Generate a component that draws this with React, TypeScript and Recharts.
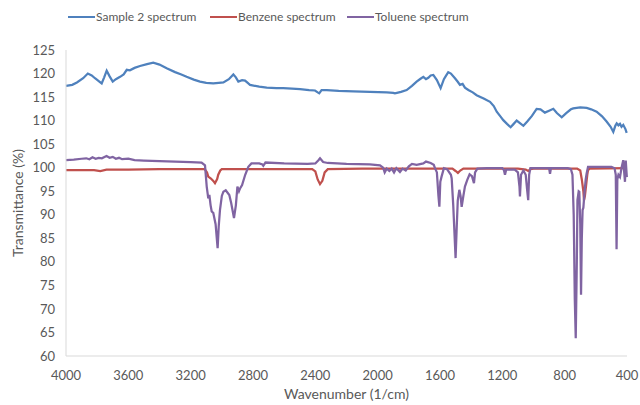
import React from 'react';
import { LineChart, Line, XAxis, YAxis } from 'recharts';

// IR spectra, wavenumber (1/cm) vs transmittance (%)
const xTicks = [4000, 3600, 3200, 2800, 2400, 2000, 1600, 1200, 800, 400];
const yTicks = [60, 65, 70, 75, 80, 85, 90, 95, 100, 105, 110, 115, 120, 125];

const sampleWn = [
    4000, 3960, 3930, 3890, 3860, 3835, 3814, 3790, 3771, 3755, 3739, 3720, 3700, 3680, 3653, 3630, 3610, 3590,
    3560, 3525, 3480, 3440, 3400, 3354, 3300, 3260, 3226, 3180, 3140, 3100, 3055, 3020, 2990, 2955, 2926, 2910,
    2894, 2870, 2851, 2830, 2819, 2760, 2712, 2650, 2606, 2550, 2498, 2440, 2402, 2385, 2375, 2360, 2327, 2250,
    2156, 2050, 1942, 1900, 1889, 1850, 1814, 1780, 1750, 1725, 1707, 1690, 1675, 1660, 1643, 1620, 1596, 1575,
    1560, 1547, 1530, 1504, 1485, 1472, 1455, 1440, 1418, 1390, 1365, 1320, 1279, 1255, 1236, 1210, 1194, 1170,
    1147, 1130, 1108, 1085, 1065, 1040, 1010, 980, 955, 927, 900, 873, 850, 819, 790, 760, 745, 700, 659, 630,
    595, 560, 531, 505, 488, 475, 466, 455, 445, 435, 424, 410, 402,
];
const sampleT = [
    117.4, 117.6, 118.1, 119.0, 120.0, 119.6, 119.0, 118.4, 117.9, 119.2, 120.6, 119.4, 118.3, 118.8, 119.3, 119.8, 120.8, 120.7,
    121.2, 121.6, 122.0, 122.3, 121.9, 121.1, 120.3, 119.8, 119.3, 118.7, 118.3, 118.0, 117.9, 118.0, 118.1, 118.8, 119.8, 119.2,
    118.3, 118.6, 118.5, 117.9, 117.6, 117.2, 117.0, 116.9, 116.9, 116.8, 116.7, 116.5, 116.4, 116.0, 115.8, 116.5, 116.5, 116.3,
    116.2, 116.1, 116.0, 115.9, 115.8, 116.1, 116.5, 117.4, 118.3, 118.9, 119.3, 118.8, 119.1, 119.6, 119.7, 118.6, 116.9, 118.8,
    119.6, 120.3, 120.0, 119.0, 118.2, 117.6, 117.8, 117.0, 116.5, 116.0, 115.4, 114.7, 114.0, 113.1, 111.9, 110.8, 110.1, 109.3,
    108.6, 109.2, 110.0, 109.4, 108.9, 109.8, 111.0, 112.5, 112.4, 111.7, 112.1, 112.5, 111.6, 110.7, 111.6, 112.4, 112.6, 112.8, 112.7, 112.4,
    111.9, 110.9, 109.8, 108.7, 107.6, 108.9, 109.4, 109.0, 109.3, 108.7, 109.1, 108.2, 107.4,
];

const benzeneWn = [
    4000, 3900, 3820, 3780, 3740, 3600, 3400, 3200, 3110, 3095, 3087, 3070, 3055, 3044, 3030, 3023, 3010, 3000,
    2800, 2600, 2420, 2400, 2385, 2370, 2355, 2340, 2320, 2100, 1800, 1520, 1500, 1485, 1470, 1450, 1100, 1050,
    1034, 1020, 1000, 750, 720, 700, 690, 680, 676, 670, 665, 655, 650, 640, 400,
];
const benzeneT = [
    99.5, 99.5, 99.5, 99.3, 99.6, 99.6, 99.7, 99.7, 99.7, 99.0, 98.1, 97.7, 97.2, 96.7, 97.6, 98.5, 99.4, 99.7,
    99.7, 99.7, 99.7, 99.2, 97.5, 96.5, 97.2, 99.0, 99.7, 99.8, 99.8, 99.8, 99.3, 98.9, 99.4, 99.8, 99.8, 99.6,
    99.3, 99.7, 99.8, 99.8, 99.8, 99.4, 97.5, 95.0, 93.1, 94.0, 95.5, 98.5, 99.5, 99.8, 99.9,
];

const tolueneWn = [
    4000, 3950, 3900, 3870, 3850, 3830, 3810, 3790, 3770, 3740, 3720, 3700, 3680, 3660, 3640, 3600, 3560, 3500,
    3400, 3300, 3200, 3130, 3108, 3097, 3087, 3080, 3072, 3065, 3055, 3040, 3027, 3020, 3012, 3000, 2990, 2975,
    2952, 2940, 2922, 2910, 2900, 2890, 2883, 2870, 2850, 2830, 2810, 2760, 2740, 2734, 2720, 2600, 2450, 2400,
    2380, 2370, 2350, 2320, 2200, 2050, 1985, 1965, 1955, 1942, 1925, 1910, 1895, 1880, 1857, 1840, 1820, 1800,
    1780, 1750, 1707, 1690, 1660, 1640, 1632, 1620, 1610, 1604, 1598, 1590, 1575, 1555, 1530, 1525, 1515, 1500,
    1492, 1486, 1476, 1468, 1461, 1450, 1440, 1425, 1410, 1395, 1382, 1375, 1360, 1300, 1200, 1190, 1183, 1175,
    1120, 1100, 1090, 1087, 1080, 1065, 1050, 1040, 1034, 1028, 1020, 900, 894, 888, 780, 760, 750, 742, 735,
    729, 722, 718, 710, 706, 700, 695, 690, 685, 680, 672, 665, 659, 650, 500, 480, 472, 467, 462, 455, 445,
    435, 424, 418, 413, 408, 404, 401,
];
const tolueneT = [
    101.6, 101.7, 101.9, 102.0, 101.8, 102.2, 101.9, 102.1, 102.0, 102.5, 102.1, 102.3, 101.9, 102.1, 101.8, 101.9, 101.6, 101.5,
    101.4, 101.3, 101.2, 101.1, 100.5, 96.0, 93.5, 94.2, 92.0, 90.7, 90.4, 88.0, 82.9, 87.5, 91.0, 94.0, 94.9, 95.2,
    94.2, 92.5, 89.3, 92.0, 96.0, 95.0, 95.6, 96.3, 98.5, 100.2, 100.9, 100.9, 100.7, 100.4, 101.1, 100.9, 100.8, 100.9,
    101.6, 102.0, 101.2, 101.0, 100.8, 100.7, 100.5, 100.0, 99.0, 99.8, 99.3, 99.8, 99.0, 99.9, 99.1, 99.8, 99.4, 100.3,
    100.8, 100.6, 100.9, 101.3, 101.0, 100.6, 99.9, 99.0, 94.0, 91.7, 97.0, 98.1, 99.9, 99.7, 98.5, 97.7, 92.0, 80.8,
    88.0, 93.0, 95.3, 94.0, 91.7, 94.0, 96.0, 97.4, 98.6, 98.2, 96.7, 99.0, 99.8, 99.9, 99.9, 99.5, 98.5, 99.6,
    99.6, 99.0, 96.0, 93.9, 98.5, 99.4, 98.5, 95.0, 93.1, 98.5, 99.9, 99.9, 98.7, 99.9, 99.9, 99.7, 98.5, 90.0, 72.0,
    63.8, 80.0, 93.1, 95.0, 94.9, 88.0, 73.0, 85.0, 91.0, 91.5, 95.0, 97.5, 98.8, 100.2, 100.2, 99.9, 98.5, 82.7, 97.5, 98.5, 98.0,
    100.0, 101.6, 99.0, 97.0, 101.5, 99.5, 98.0,
];

const sample = sampleWn.map((wn, i) => ({ wn, t: sampleT[i] }));
const benzene = benzeneWn.map((wn, i) => ({ wn, t: benzeneT[i] }));
const toluene = tolueneWn.map((wn, i) => ({ wn, t: tolueneT[i] }));

const colors = {
    sample: '#4f81bd',
    benzene: '#c0504d',
    toluene: '#8064a2',
    axis: '#d9d9d9',
    text: '#595959',
};

const FONT = 'Lato, "Open Sans", sans-serif';

// legend entries and where each one starts (px from the left edge)
const legendItems = [
    { name: 'Sample 2 spectrum', color: colors.sample, left: 68 },
    { name: 'Benzene spectrum', color: colors.benzene, left: 210 },
    { name: 'Toluene spectrum', color: colors.toluene, left: 347 },
];

export default function App() {
    const tickStyle = { fontSize: 13, fill: colors.text, fontFamily: FONT };
    return (
        <div style={{ position: 'absolute', left: 0, top: 0, width: 640, height: 405, background: '#fff', fontFamily: FONT }}>
            {legendItems.map((it) => (
                <div
                    key={it.name}
                    style={{ position: 'absolute', top: 9, left: it.left, display: 'flex', alignItems: 'center', fontSize: 12, color: colors.text, whiteSpace: 'nowrap' }}
                >
                    <span style={{ display: 'inline-block', width: 27, height: 2, background: it.color, marginRight: 1 }} />
                    <span>{it.name}</span>
                </div>
            ))}
            <LineChart width={640} height={405} margin={{ top: 50, right: 13, left: 0, bottom: 0 }}>
                <XAxis
                    dataKey="wn"
                    type="number"
                    domain={[400, 4000]}
                    ticks={xTicks}
                    reversed
                    allowDuplicatedCategory={false}
                    height={49}
                    tickLine={false}
                    tickMargin={9}
                    stroke={colors.axis}
                    tick={tickStyle}
                    label={{ value: 'Wavenumber (1/cm)', position: 'insideBottom', offset: 6, style: { fontSize: 14, fill: colors.text, fontFamily: FONT } }}
                />
                <YAxis
                    type="number"
                    domain={[60, 125]}
                    ticks={yTicks}
                    width={66}
                    tickLine={false}
                    tickMargin={5}
                    stroke={colors.axis}
                    tick={tickStyle}
                    label={{ value: 'Transmittance (%)', angle: -90, position: 'insideLeft', offset: 18, style: { fontSize: 14, fill: colors.text, fontFamily: FONT, textAnchor: 'middle' } }}
                />
                <Line data={sample} dataKey="t" name="Sample 2 spectrum" type="linear" stroke={colors.sample} strokeWidth={2.25} dot={false} isAnimationActive={false} />
                <Line data={benzene} dataKey="t" name="Benzene spectrum" type="linear" stroke={colors.benzene} strokeWidth={2.25} dot={false} isAnimationActive={false} />
                <Line data={toluene} dataKey="t" name="Toluene spectrum" type="linear" stroke={colors.toluene} strokeWidth={2.25} dot={false} isAnimationActive={false} />
            </LineChart>
        </div>
    );
}
